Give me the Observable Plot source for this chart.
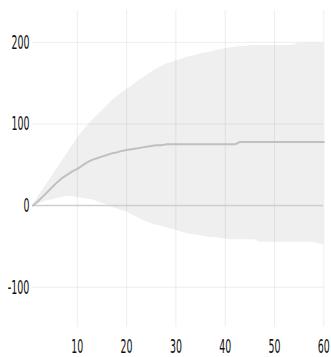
<!DOCTYPE html>
<html><head><meta charset="utf-8">
<script src="https://cdn.jsdelivr.net/npm/d3@7"></script>
<script src="https://cdn.jsdelivr.net/npm/@observablehq/plot@0.6"></script>
<style>body{margin:0;background:#fff}</style>
</head><body><div id="chart"></div>
<script>
const steps  = [1,2,3,4,5,6,7,8,9,10,11,12,13,14,15,16,17,18,19,20,21,22,23,24,25,26,27,28,29,30,31,32,33,34,35,36,37,38,39,40,41,42,43,44,45,46,47,48,49,50,51,52,53,54,55,56,57,58,59,60];
const median = [0,5,11,17,23,29,34,38,42,45,49,53,56,58,60,62,64,65,67,68,69,70,71,72,73,74,74,75,75,75,75,75,75,75,75,75,75,75,75,75,75,75,78,78,78,78,78,78,78,78,78,78,78,78,78,78,78,78,78,78];
const upper  = [0,10,19,28,37,46,55,64,73,82,90,97,104,110,116,122,128,133,138,142,146,151,155,159,163,167,170,173,175,177,179,181,183,184,186,187,188,190,191,192,193,194,195,195,196,196,196,196,196,196,196,196,196,197,199,199,199,199,199,199];
const lower  = [0,2,4,6,7,9,10,11,11,10,9,8,7,5,3,1,-2,-4,-6,-8,-11,-14,-17,-20,-22,-24,-25,-27,-29,-30,-32,-34,-35,-36,-37,-38,-39,-39,-40,-41,-42,-42,-42,-42,-42,-42,-45,-45,-45,-45,-45,-45,-45,-45,-45,-45,-45,-45,-47,-48];
const xTicks = [10,20,30,40,50,60];
const yTicks = [-100,0,100,200];

const data = steps.map((s,i)=>({step:s, median:median[i], upper:upper[i], lower:lower[i]}));

const chart = Plot.plot({
  width:331, height:357,
  marginLeft:32.4, marginRight:7.7, marginTop:10, marginBottom:30.3,
  style:{fontFamily:"'Liberation Sans Narrow', 'DejaVu Sans Condensed', 'Liberation Sans', sans-serif", fontSize:"20px", color:"#111", background:"#fff"},
  x:{domain:[1,60], ticks:xTicks, tickSize:0, tickPadding:11.6, label:null, tickFormat:d=>String(d)},
  y:{domain:[-149,239], ticks:yTicks, tickSize:0, tickPadding:3.5, label:null, tickFormat:d=>String(d)},
  marks:[
    Plot.areaY(data,{x:"step", y1:"lower", y2:"upper", fill:"#efefef"}),
    Plot.ruleX(xTicks,{stroke:"#000", strokeOpacity:0.07}),
    Plot.ruleY(yTicks,{stroke:"#000", strokeOpacity:0.07}),
    Plot.ruleY([0],{stroke:"#cfcfcf", strokeWidth:1.5}),
    Plot.line(data,{x:"step", y:"median", stroke:"#c0c0c0", strokeWidth:2})
  ]
});
document.getElementById("chart").appendChild(chart);
chart.querySelectorAll("text").forEach(el=>{
  const t = el.textContent;
  if (!/^-?\d+$/.test(t)) return;
  const target = t.replace("-","").length*6.0 + (t.startsWith("-")?3.6:0);
  const bb = el.getBBox();
  if (!bb.width) return;
  const s = target / bb.width;
  const anchor = getComputedStyle(el).textAnchor || el.getAttribute("text-anchor");
  let ax;
  if (anchor === "end") ax = bb.x + bb.width;
  else if (anchor === "start") ax = bb.x;
  else ax = bb.x + bb.width/2;
  const prev = el.getAttribute("transform") || "";
  el.setAttribute("transform", `${prev} translate(${ax},0) scale(${s},1) translate(${-ax},0)`.trim());
});
</script>
</body></html>
